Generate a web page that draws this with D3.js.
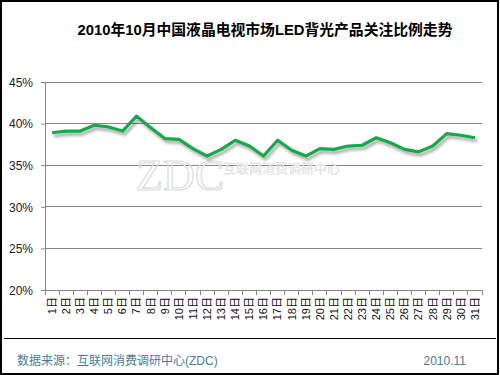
<!DOCTYPE html>
<html>
<head>
<meta charset="utf-8">
<script src="https://cdn.jsdelivr.net/npm/d3@7"></script>
<style>
  html, body { margin: 0; padding: 0; background: #fff; }
  svg { display: block; }
</style>
</head>
<body>
<div id="chart"></div>
<script>
// ─── Data ─────────────────────────────────────────────────────────────────────
const days = d3.range(1, 32).map(d => d + '日')
const shares = [
  38.9, 39.1, 39.1, 39.8, 39.6, 39.1, 40.9, 39.5, 38.2, 38.1,
  37.0, 36.1, 36.9, 38.0, 37.3, 36.1, 38.0, 36.8, 36.1, 37.0,
  36.9, 37.3, 37.4, 38.3, 37.7, 36.9, 36.6, 37.3, 38.8, 38.6, 38.3,
]
const yTicks = [20, 25, 30, 35, 40, 45]

const title = '2010年10月中国液晶电视市场LED背光产品关注比例走势'
const source = '数据来源：互联网消费调研中心(ZDC)'
const dateNote = '2010.11'

// ─── Layout ───────────────────────────────────────────────────────────────────
const W = 500, H = 375
const M = { left: 45, right: 482, top: 82, bottom: 290 }
const FONT = 'Arial, "Liberation Sans", "Noto Sans CJK SC", sans-serif'

const svg = d3.select('#chart').append('svg')
  .attr('width', W).attr('height', H)

const defs = svg.append('defs')
const f = defs.append('filter').attr('id', 'shadow')
  .attr('x', '-10%').attr('y', '-30%').attr('width', '120%').attr('height', '160%')
f.append('feGaussianBlur').attr('in', 'SourceAlpha').attr('stdDeviation', 1.5).attr('result', 'b')
f.append('feOffset').attr('in', 'b').attr('dx', 2).attr('dy', 3).attr('result', 'o')
f.append('feComponentTransfer').attr('in', 'o').attr('result', 's')
  .append('feFuncA').attr('type', 'linear').attr('slope', 0.35)
const fm = f.append('feMerge')
fm.append('feMergeNode').attr('in', 's')
fm.append('feMergeNode').attr('in', 'SourceGraphic')

// frame
svg.append('rect')
  .attr('x', 1).attr('y', 1).attr('width', 497).attr('height', 373)
  .attr('fill', '#fff').attr('stroke', '#000').attr('stroke-width', 2)

// title
svg.append('text')
  .attr('x', 265).attr('y', 35)
  .attr('text-anchor', 'middle')
  .attr('font-family', FONT).attr('font-size', 14.8).attr('font-weight', 'bold')
  .attr('fill', '#000')
  .text(title)

// ─── Scales ───────────────────────────────────────────────────────────────────
const x = d3.scaleBand().domain(days).range([M.left, M.right])
const y = d3.scaleLinear().domain([20, 45]).range([M.bottom, M.top])

// gridlines
svg.append('g')
  .selectAll('line')
  .data(yTicks.slice(1))
  .join('line')
  .attr('x1', M.left).attr('x2', M.right)
  .attr('y1', d => y(d)).attr('y2', d => y(d))
  .attr('stroke', '#868686').attr('stroke-width', 1)
  .attr('shape-rendering', 'crispEdges')

// watermark
const wm = svg.append('g').attr('fill', '#e4e4e4').attr('font-family', '"Liberation Serif", serif')
wm.append('text').attr('x', 136).attr('y', 190)
  .attr('font-size', 44).attr('textLength', 88).attr('lengthAdjust', 'spacingAndGlyphs')
  .attr('fill', 'none').attr('stroke', '#dcdcdc').attr('stroke-width', 1.2)
  .text('ZDC')
wm.append('text').attr('x', 223).attr('y', 173)
  .attr('font-family', '"Noto Sans CJK SC", sans-serif').attr('font-weight', 'bold')
  .attr('font-size', 13).attr('fill', '#e6e6e6')
  .text('互联网消费调研中心')

// y axis
const yAxis = svg.append('g')
  .attr('transform', `translate(${M.left},0)`)
  .call(d3.axisLeft(y).tickValues(yTicks).tickSize(4).tickPadding(8).tickFormat(d => d + '%'))
yAxis.select('.domain').attr('stroke', '#868686')
yAxis.selectAll('.tick line').attr('stroke', '#868686')
yAxis.selectAll('text')
  .attr('font-family', FONT).attr('font-size', 12).attr('fill', '#222')
  .attr('dy', '0.35em')

// x axis
const xAxis = svg.append('g')
  .attr('transform', `translate(0,${M.bottom})`)
  .call(d3.axisBottom(x).tickSize(0).tickPadding(0))
xAxis.select('.domain').attr('stroke', '#868686')
  .attr('d', `M${M.left},0.5H${M.right}`)
// ticks at category boundaries
xAxis.append('g')
  .selectAll('line')
  .data(days.concat(['end']))
  .join('line')
  .attr('x1', (d, i) => M.left + i * x.step())
  .attr('x2', (d, i) => M.left + i * x.step())
  .attr('y1', 0).attr('y2', 5)
  .attr('stroke', '#868686')
  .attr('shape-rendering', 'crispEdges')
xAxis.selectAll('.tick text')
  .attr('font-family', FONT).attr('font-size', 11).attr('fill', '#111')
  .attr('text-anchor', 'end')
  .attr('transform', 'rotate(-90)')
  .attr('x', -7).attr('y', 0).attr('dy', '0.35em')

// ─── Line ─────────────────────────────────────────────────────────────────────
const line = d3.line()
  .x((d, i) => x(days[i]) + x.bandwidth() / 2)
  .y(d => y(d))

svg.append('path')
  .datum(shares)
  .attr('d', line)
  .attr('fill', 'none')
  .attr('stroke', '#12a84a')
  .attr('stroke-width', 3.2)
  .attr('stroke-linejoin', 'round')
  .attr('filter', 'url(#shadow)')

// ─── Footer ───────────────────────────────────────────────────────────────────
svg.append('line')
  .attr('x1', 4).attr('x2', 496).attr('y1', 338.5).attr('y2', 338.5)
  .attr('stroke', '#000').attr('stroke-width', 1)

svg.append('text')
  .attr('x', 17).attr('y', 365)
  .attr('font-family', FONT).attr('font-size', 12).attr('fill', '#4b7d93')
  .text(source)

svg.append('text')
  .attr('x', 466).attr('y', 365)
  .attr('text-anchor', 'end')
  .attr('font-family', FONT).attr('font-size', 12).attr('fill', '#4b7d93')
  .text(dateNote)
</script>
</body>
</html>
